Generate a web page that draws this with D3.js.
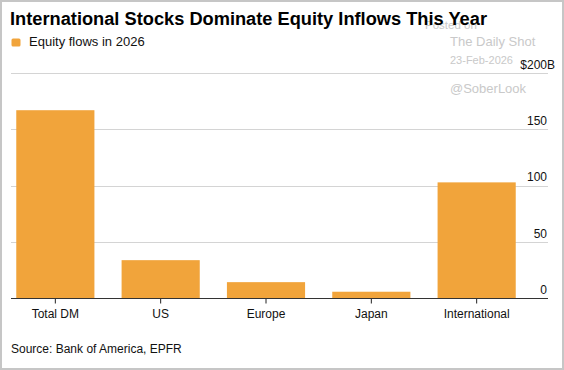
<!DOCTYPE html>
<html>
<head>
<meta charset="utf-8">
<script src="https://cdn.jsdelivr.net/npm/d3@7"></script>
<style>
  body { margin: 0; background: #fff; }
  svg { display: block; font-family: "Liberation Sans", Arial, sans-serif; }
</style>
</head>
<body>
<script>
const width = 564;
const height = 370;

// data
const categories = ["Total DM", "US", "Europe", "Japan", "International"];
const flows = [167, 34, 14.5, 6, 103];
const yTicks = [0, 50, 100, 150, 200];
const seriesName = "Equity flows in 2026";

const barColour = "#f1a43b";

const svg = d3
    .select("body")
    .append("svg")
    .attr("width", width)
    .attr("height", height);

// frame round the picture
svg.append("rect")
    .attr("x", 1)
    .attr("y", 1)
    .attr("width", width - 2)
    .attr("height", height - 2)
    .attr("fill", "#fff")
    .attr("stroke", "#c6c6c6")
    .attr("stroke-width", 2);

const x = d3
    .scaleBand()
    .domain(categories)
    .range([11, 521])
    .paddingInner(0.258)
    .paddingOuter(0.05);

const y = d3.scaleLinear().domain([0, 200]).range([298.5, 73]);

// watermark (sits behind the title, as in the original)
const mark = svg.append("g").attr("fill", "#c9c9c9");
mark.append("text").attr("x", 425).attr("y", 29).attr("font-size", 11.5).text("Posted on");
mark.append("text").attr("x", 450).attr("y", 46).attr("font-size", 13).text("The Daily Shot");
mark.append("text").attr("x", 450).attr("y", 64).attr("font-size", 11).text("23-Feb-2026");
mark.append("text").attr("x", 450).attr("y", 93).attr("font-size", 13).text("@SoberLook");

// title
svg.append("text")
    .attr("x", 10)
    .attr("y", 24.5)
    .attr("font-size", 17.5)
    .attr("font-weight", "bold")
    .attr("fill", "#000")
    .attr("textLength", 477)
    .attr("lengthAdjust", "spacingAndGlyphs")
    .text("International Stocks Dominate Equity Inflows This Year");

// legend
svg.append("rect")
    .attr("x", 11.5)
    .attr("y", 38.5)
    .attr("width", 9)
    .attr("height", 8)
    .attr("rx", 1.5)
    .attr("fill", barColour);
svg.append("text")
    .attr("x", 29)
    .attr("y", 46)
    .attr("font-size", 13)
    .attr("fill", "#111")
    .text(seriesName);

// gridlines
svg.append("g")
    .selectAll("line")
    .data(yTicks.filter((d) => d > 0))
    .enter()
    .append("line")
    .attr("x1", 11)
    .attr("x2", 548)
    .attr("y1", (d) => Math.round(y(d)) + 0.5)
    .attr("y2", (d) => Math.round(y(d)) + 0.5)
    .attr("stroke", "#d4d4d4")
    .attr("stroke-width", 1);

// y labels, numbers aligned, unit suffix hangs past the edge
const yLabels = svg.append("g").attr("font-size", 12).attr("fill", "#111");
yLabels
    .selectAll("text")
    .data(yTicks)
    .enter()
    .append("text")
    .attr("x", 547)
    .attr("y", (d) => y(d) - 4.5)
    .attr("text-anchor", "end")
    .text((d) => (d === 200 ? "$" + d : d));
yLabels
    .append("text")
    .attr("x", 547)
    .attr("y", y(200) - 4.5)
    .text("B");

// bars
svg.append("g")
    .selectAll("rect")
    .data(flows)
    .enter()
    .append("rect")
    .attr("x", (d, i) => x(categories[i]))
    .attr("width", x.bandwidth())
    .attr("y", (d) => y(d))
    .attr("height", (d) => y(0) - y(d))
    .attr("fill", barColour);

// x axis
const xAxis = svg
    .append("g")
    .attr("transform", `translate(0, ${y(0)})`)
    .call(d3.axisBottom(x).tickSize(5).tickSizeOuter(0));
xAxis.select(".domain").remove();
xAxis.selectAll(".tick line").attr("stroke", "#222");
xAxis
    .selectAll(".tick text")
    .attr("font-family", "Liberation Sans, Arial, sans-serif")
    .attr("font-size", 12)
    .attr("fill", "#111")
    .attr("dy", "0.71em")
    .attr("y", 11);
svg.append("line")
    .attr("x1", 11)
    .attr("x2", 548)
    .attr("y1", y(0))
    .attr("y2", y(0))
    .attr("stroke", "#333")
    .attr("stroke-width", 1.2);

// source
svg.append("text")
    .attr("x", 11)
    .attr("y", 353)
    .attr("font-size", 12)
    .attr("fill", "#111")
    .text("Source: Bank of America, EPFR");
</script>
</body>
</html>
